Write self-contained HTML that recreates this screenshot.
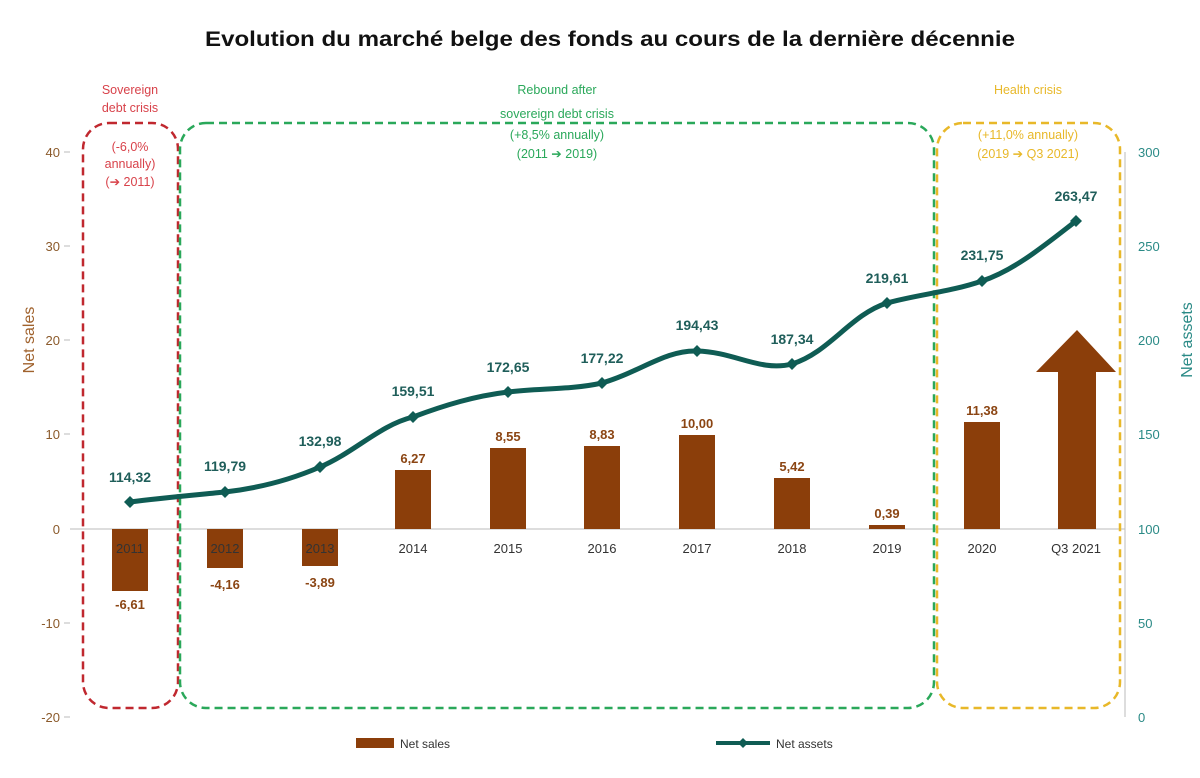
<!DOCTYPE html>
<html><head><meta charset="utf-8"><style>body{margin:0;background:#fff}svg{display:block}text{font-family:"Liberation Sans",sans-serif}</style></head><body>
<svg width="1200" height="778" viewBox="0 0 1200 778">
<text x="610" y="46" text-anchor="middle" font-size="21" font-weight="bold" fill="#111" textLength="810" lengthAdjust="spacingAndGlyphs">Evolution du marché belge des fonds au cours de la dernière décennie</text>
<g font-size="13" fill="#8b5a2b" text-anchor="end">
<text x="60" y="157">40</text><text x="60" y="251">30</text><text x="60" y="345">20</text><text x="60" y="439">10</text><text x="60" y="534">0</text><text x="60" y="628">-10</text><text x="60" y="722">-20</text></g>
<g stroke="#bbb"><line x1="64" y1="152" x2="70" y2="152"/><line x1="64" y1="246" x2="70" y2="246"/><line x1="64" y1="340" x2="70" y2="340"/><line x1="64" y1="434" x2="70" y2="434"/><line x1="64" y1="717" x2="70" y2="717"/><line x1="64" y1="623" x2="70" y2="623"/>
<line x1="70" y1="529" x2="1125" y2="529"/><line x1="1125" y1="152" x2="1125" y2="717"/></g>
<g font-size="13" fill="#2a8a86"><text x="1138" y="157">300</text><text x="1138" y="251">250</text><text x="1138" y="345">200</text><text x="1138" y="439">150</text><text x="1138" y="534">100</text><text x="1138" y="628">50</text><text x="1138" y="722">0</text></g>
<text transform="translate(34,340) rotate(-90)" text-anchor="middle" font-size="16" fill="#a0622d">Net sales</text>
<text transform="translate(1192,340) rotate(-90)" text-anchor="middle" font-size="16" fill="#2a8a86">Net assets</text>
<g fill="none" stroke-width="2.5" stroke-dasharray="8,5">
<rect x="83" y="123" width="95" height="585" rx="26" stroke="#c0282f"/>
<rect x="180" y="123" width="754" height="585" rx="26" stroke="#2aa85a"/>
<rect x="937" y="123" width="183" height="585" rx="26" stroke="#e8b829"/></g>
<g font-size="12.5" text-anchor="middle">
<g fill="#d8424a"><text x="130" y="94">Sovereign</text><text x="130" y="112">debt crisis</text><text x="130" y="151">(-6,0%</text><text x="130" y="168">annually)</text><text x="130" y="186">(➔ 2011)</text></g>
<g fill="#2aa85a"><text x="557" y="94">Rebound after</text><text x="557" y="118">sovereign debt crisis</text><text x="557" y="139">(+8,5% annually)</text><text x="557" y="158">(2011 ➔ 2019)</text></g>
<g fill="#e8b829"><text x="1028" y="94">Health crisis</text><text x="1028" y="139">(+11,0% annually)</text><text x="1028" y="158">(2019 ➔ Q3 2021)</text></g></g>
<g fill="#8b3e0a">
<rect x="112" y="529" width="36" height="62"/><rect x="207" y="529" width="36" height="39"/><rect x="302" y="529" width="36" height="37"/>
<rect x="395" y="470" width="36" height="59"/><rect x="490" y="448" width="36" height="81"/><rect x="584" y="446" width="36" height="83"/><rect x="679" y="435" width="36" height="94"/><rect x="774" y="478" width="36" height="51"/><rect x="869" y="525" width="36" height="4"/><rect x="964" y="422" width="36" height="107"/>
<polygon points="1058,529 1096,529 1096,372 1116,372 1077,330 1036,372 1058,372"/></g>
<g font-size="13" text-anchor="middle" fill="#333"><text x="130" y="553">2011</text><text x="225" y="553">2012</text><text x="320" y="553">2013</text><text x="413" y="553">2014</text><text x="508" y="553">2015</text><text x="602" y="553">2016</text><text x="697" y="553">2017</text><text x="792" y="553">2018</text><text x="887" y="553">2019</text><text x="982" y="553">2020</text><text x="1076" y="553">Q3 2021</text></g>
<g font-size="13" font-weight="bold" text-anchor="middle" fill="#8b4513"><text x="130" y="609">-6,61</text><text x="225" y="589">-4,16</text><text x="320" y="587">-3,89</text><text x="413" y="463">6,27</text><text x="508" y="441">8,55</text><text x="602" y="439">8,83</text><text x="697" y="428">10,00</text><text x="792" y="471">5,42</text><text x="887" y="518">0,39</text><text x="982" y="415">11,38</text></g>
<path d="M130,502 C160,498 195,495 225,492 C260,488 290,480 320,467 C355,452 380,425 413,417 C445,405 475,396 508,392 C540,388 570,390 602,383 C640,372 665,350 697,351 C735,352 760,372 792,364 C830,352 850,315 887,303 C920,294 950,292 982,281 C1015,270 1045,245 1076,221" fill="none" stroke="#0f5c54" stroke-width="5"/>
<g fill="#0f5c54"><path d="M130,496l6,6l-6,6l-6,-6z"/><path d="M225,486l6,6l-6,6l-6,-6z"/><path d="M320,461l6,6l-6,6l-6,-6z"/><path d="M413,411l6,6l-6,6l-6,-6z"/><path d="M508,386l6,6l-6,6l-6,-6z"/><path d="M602,377l6,6l-6,6l-6,-6z"/><path d="M697,345l6,6l-6,6l-6,-6z"/><path d="M792,358l6,6l-6,6l-6,-6z"/><path d="M887,297l6,6l-6,6l-6,-6z"/><path d="M982,275l6,6l-6,6l-6,-6z"/><path d="M1076,215l6,6l-6,6l-6,-6z"/></g>
<g font-size="14" font-weight="bold" text-anchor="middle" fill="#1f5e5a"><text x="130" y="482">114,32</text><text x="225" y="471">119,79</text><text x="320" y="446">132,98</text><text x="413" y="396">159,51</text><text x="508" y="372">172,65</text><text x="602" y="363">177,22</text><text x="697" y="330">194,43</text><text x="792" y="344">187,34</text><text x="887" y="283">219,61</text><text x="982" y="260">231,75</text><text x="1076" y="201">263,47</text></g>
<rect x="356" y="738" width="38" height="10" fill="#8b3e0a"/><text x="400" y="748" font-size="12" fill="#333">Net sales</text>
<line x1="716" y1="743" x2="770" y2="743" stroke="#0f5c54" stroke-width="4"/><path d="M743,738l5,5l-5,5l-5,-5z" fill="#0f5c54"/><text x="776" y="748" font-size="12" fill="#333">Net assets</text>
</svg></body></html>
